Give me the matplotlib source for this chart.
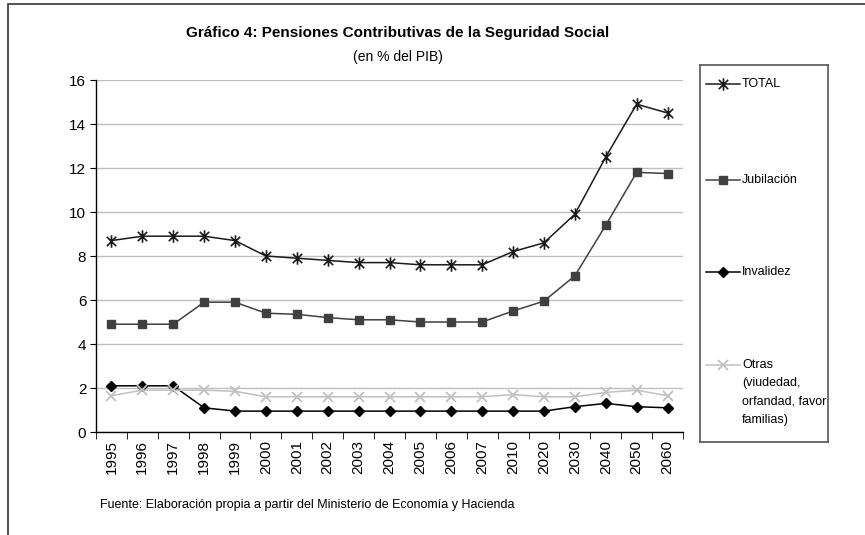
import matplotlib.pyplot as plt
from matplotlib.patches import Rectangle
from matplotlib.path import Path

plt.rcParams['font.family'] = ['Liberation Sans', 'DejaVu Sans']

# ---- Data (% del PIB) ----
years = ["1995", "1996", "1997", "1998", "1999", "2000", "2001", "2002", "2003", "2004",
         "2005", "2006", "2007", "2010", "2020", "2030", "2040", "2050", "2060"]
total = [8.7, 8.9, 8.9, 8.9, 8.7, 8.0, 7.9, 7.8, 7.7, 7.7,
         7.6, 7.6, 7.6, 8.2, 8.6, 9.9, 12.5, 14.9, 14.5]
jubilacion = [4.9, 4.9, 4.9, 5.9, 5.9, 5.4, 5.35, 5.2, 5.1, 5.1,
              5.0, 5.0, 5.0, 5.5, 5.95, 7.1, 9.4, 11.8, 11.75]
invalidez = [2.1, 2.1, 2.1, 1.1, 0.95, 0.95, 0.95, 0.95, 0.95, 0.95,
             0.95, 0.95, 0.95, 0.95, 0.95, 1.15, 1.3, 1.15, 1.1]
otras = [1.65, 1.9, 1.9, 1.9, 1.85, 1.6, 1.6, 1.6, 1.6, 1.6,
         1.6, 1.6, 1.6, 1.7, 1.6, 1.6, 1.8, 1.9, 1.65]

labels = ["TOTAL", "Jubilación", "Invalidez", "Otras\n(viudedad,\norfandad, favor\nfamilias)"]
series = [total, jubilacion, invalidez, otras]

# Excel-like asterisk: an X with a vertical bar
asterisk = Path([(0, -1), (0, 1), (-0.75, -0.75), (0.75, 0.75), (-0.75, 0.75), (0.75, -0.75)],
                [Path.MOVETO, Path.LINETO, Path.MOVETO, Path.LINETO, Path.MOVETO, Path.LINETO])

styles = [
    dict(color="#1a1a1a", marker=asterisk, markersize=9, markeredgewidth=1.2),
    dict(color="#404040", marker="s", markersize=6),
    dict(color="black", marker="D", markersize=5.5),
    dict(color="#c0c0c0", marker="x", markersize=7, markeredgewidth=1.3),
]

W, H = 865, 535
fig = plt.figure(figsize=(W / 100, H / 100), dpi=100)

# outer frame (cropped at right / bottom)
fig.add_artist(Rectangle((8 / W, -0.1), 1.2, 1.1 - 4 / H, transform=fig.transFigure,
                         fill=False, edgecolor="#333333", linewidth=1.2))

ax = fig.add_axes([96 / W, 1 - 432 / H, (683 - 96) / W, (432 - 80) / H])
x = list(range(len(years)))
for vals, st in zip(series, styles):
    ax.plot(x, vals, linewidth=1.1, **st)

ax.set_xlim(-0.5, len(years) - 0.5)
ax.set_ylim(0, 16)
ax.set_yticks(range(0, 17, 2))
ax.grid(axis="y", color="#c0c0c0", linewidth=1)
ax.set_axisbelow(True)
ax.spines[["top", "right"]].set_visible(False)
ax.spines["left"].set_linewidth(1)
ax.spines["bottom"].set_linewidth(1)
ax.set_xticks(x)
ax.set_xticklabels(years, rotation=90, fontsize=11)
ax.tick_params(axis="x", length=0, pad=6)
ax.set_xticks([i - 0.5 for i in range(len(years) + 1)], minor=True)
ax.tick_params(axis="x", which="minor", length=5, direction="out")
ax.tick_params(axis="y", length=4, direction="out", labelsize=11, pad=3)

# titles and source
fig.text(398 / W, 1 - 33 / H, "Gráfico 4: Pensiones Contributivas de la Seguridad Social",
         ha="center", va="center", fontsize=11, fontweight="bold")
fig.text(398 / W, 1 - 57 / H, "(en % del PIB)", ha="center", va="center", fontsize=10)
fig.text(100 / W, 1 - 505 / H,
         "Fuente: Elaboración propia a partir del Ministerio de Economía y Hacienda",
         ha="left", va="center", fontsize=9)

# legend box drawn by hand (tall Excel-style legend)
lg = fig.add_axes([700 / W, 1 - 442 / H, 128 / W, (442 - 65) / H])
lg.set_xlim(0, 128)
lg.set_ylim(377, 0)
lg.set_xticks([])
lg.set_yticks([])
for s in lg.spines.values():
    s.set_color("#555555")
    s.set_linewidth(1.2)
legend_y = [19, 115, 207, 300]
for lab, st, yy in zip(labels, styles, legend_y):
    lg.plot([6, 40], [yy, yy], color=st["color"], linewidth=1.1)
    lg.plot([23], [yy], linestyle="none", **st)
    lg.text(42, yy - 6, lab, ha="left", va="top", fontsize=9, linespacing=1.7)

fig.savefig("out.png", dpi=100)
